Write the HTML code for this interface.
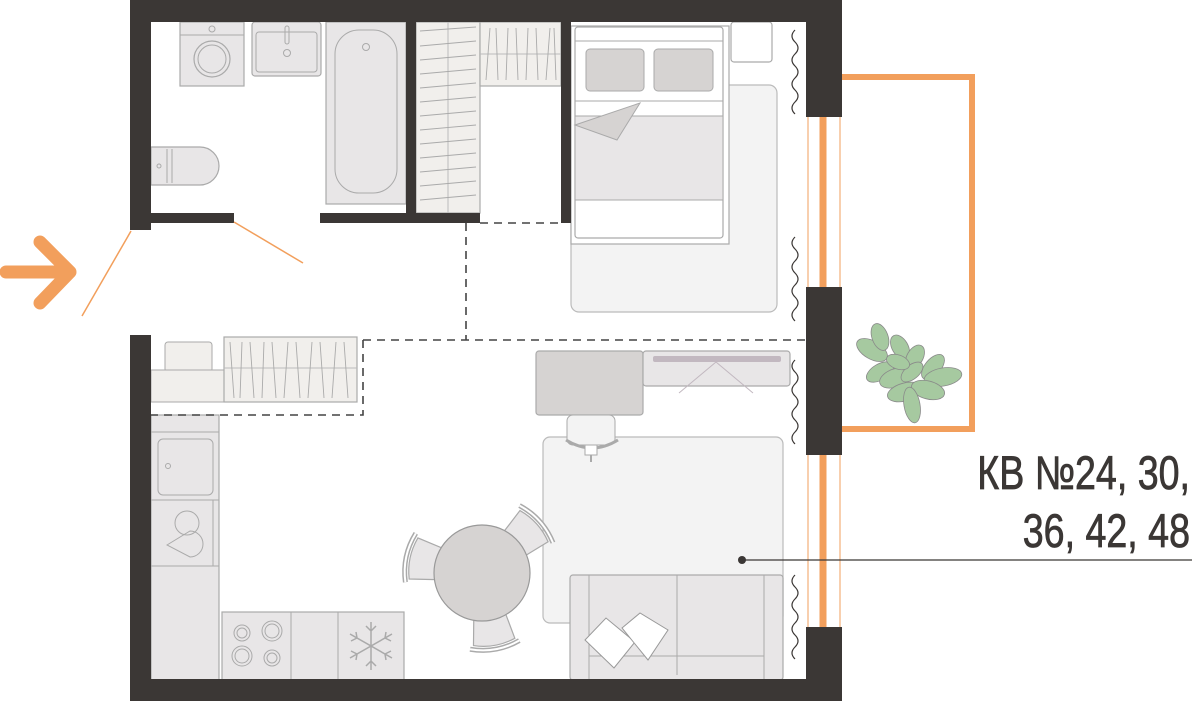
<!DOCTYPE html>
<html><head><meta charset="utf-8"><style>
html,body{margin:0;padding:0;background:#fff;}
svg{display:block;}
</style></head><body>
<svg width="1192" height="701" viewBox="0 0 1192 701" xmlns="http://www.w3.org/2000/svg">
<defs>
<g id="chair">
<path d="M-15,-38 L-21,-70 Q0,-77 21,-70 L15,-38 Z" fill="#e8e6e7" stroke="#aaa" stroke-width="1.2"/>
<path d="M-25,-73 Q0,-82 25,-73" fill="none" stroke="#aaa" stroke-width="5"/>
<path d="M-25,-73 Q0,-82 25,-73" fill="none" stroke="#fff" stroke-width="2"/>
</g>
</defs>
<!-- rugs -->
<rect x="571" y="85" width="206" height="227" rx="8" fill="#f3f3f3" stroke="#bbb" stroke-width="1.2"/>
<rect x="543" y="437" width="240" height="186" rx="7" fill="#f3f3f3" stroke="#bbb" stroke-width="1.2"/>

<!-- bathroom fixtures -->
<rect x="180" y="22" width="64" height="64" fill="#e8e6e7" stroke="#aaa" stroke-width="1.2"/>
<line x1="180" y1="35" x2="244" y2="35" stroke="#aaa"/>
<circle cx="212" cy="29" r="3" fill="none" stroke="#aaa"/>
<circle cx="212" cy="59" r="18" fill="none" stroke="#aaa" stroke-width="1.2"/>
<circle cx="212" cy="59" r="14" fill="none" stroke="#aaa"/>
<rect x="252" y="22" width="69" height="54" rx="3" fill="#e8e6e7" stroke="#aaa" stroke-width="1.2"/>
<rect x="256" y="32" width="61" height="40" rx="3" fill="none" stroke="#aaa"/>
<rect x="285" y="26" width="4" height="18" rx="2" fill="none" stroke="#aaa"/>
<circle cx="287" cy="53" r="3.5" fill="none" stroke="#aaa"/>
<rect x="326" y="22" width="80" height="182" fill="#e8e6e7" stroke="#aaa" stroke-width="1.2"/>
<rect x="335" y="30" width="62" height="163" rx="24" fill="none" stroke="#aaa"/>
<circle cx="366" cy="47" r="3.5" fill="none" stroke="#aaa"/>
<path d="M151,147 L200,147 A19,19 0 0 1 200,185 L151,185 Z" fill="#e8e6e7" stroke="#aaa" stroke-width="1.2"/>
<line x1="167" y1="149" x2="167" y2="183" stroke="#aaa"/>
<line x1="172" y1="149" x2="172" y2="183" stroke="#aaa"/>
<circle cx="159" cy="166" r="2" fill="none" stroke="#aaa"/>

<!-- wardrobes -->
<rect x="416" y="22" width="64" height="191" fill="#f1efec" stroke="#aaa" stroke-width="1.2"/>
<line x1="448" y1="22" x2="448" y2="213" stroke="#bbb"/>
<g stroke="#aaa" stroke-width="0.9">
<path d="M420,31 L476,27 M420,46 L476,41 M420,60 L476,55 M420,74 L476,69 M420,88 L476,83 M420,102 L476,97 M420,116 L476,111 M420,130 L476,125 M420,144 L476,139 M420,158 L476,153 M420,172 L476,167 M420,186 L476,181 M420,200 L476,195"/>
</g>
<rect x="480" y="22" width="81" height="64" fill="#f1efec" stroke="#aaa" stroke-width="1.2"/>
<line x1="480" y1="54" x2="561" y2="54" stroke="#bbb"/>
<g stroke="#aaa" stroke-width="0.9"><path d="M486,80 L490,28 M496,28 L498,80 M506,80 L508,28 M516,28 L518,80 M526,80 L528,28 M536,28 L538,80 M546,80 L550,28 M554,28 L556,80"/></g>

<!-- bed -->
<rect x="731" y="22" width="41" height="40" rx="3" fill="#fff" stroke="#aaa" stroke-width="1.2"/>
<rect x="571" y="26" width="158" height="218" fill="#fff" stroke="#aaa" stroke-width="1.2"/>
<rect x="575" y="27" width="148" height="211" rx="3" fill="#fff" stroke="#aaa" stroke-width="1.2"/>
<line x1="575" y1="41" x2="723" y2="41" stroke="#aaa"/>
<rect x="586" y="49" width="58" height="42" rx="4" fill="#d6d3d2" stroke="#aaa"/>
<rect x="654" y="49" width="59" height="42" rx="4" fill="#d6d3d2" stroke="#aaa"/>
<line x1="575" y1="101" x2="723" y2="101" stroke="#aaa"/>
<rect x="575" y="116" width="148" height="84" fill="#e8e6e7" stroke="#aaa"/>
<path d="M575,125 L640,103 L617,140 Z" fill="#d6d3d2" stroke="#aaa"/>

<!-- kitchen shelf -->
<rect x="165" y="342" width="47" height="30" rx="3" fill="#f1efec" stroke="#aaa"/>
<rect x="151" y="370" width="73" height="32" fill="#f1efec" stroke="#aaa"/>
<rect x="224" y="337" width="133" height="65" fill="#f1efec" stroke="#aaa" stroke-width="1.2"/>
<line x1="224" y1="368" x2="357" y2="368" stroke="#bbb"/>
<g stroke="#aaa" stroke-width="0.9"><path d="M230,342 L234,398 M240,398 L242,342 M250,342 L254,398 M262,398 L264,342 M272,342 L276,398 M284,398 L288,342 M296,342 L300,398 M308,398 L312,342 M320,342 L324,398 M332,398 L336,342 M344,342 L348,398"/></g>

<!-- kitchen counter -->
<rect x="151" y="415" width="68" height="265" fill="#e8e6e7" stroke="#aaa" stroke-width="1.2"/>
<line x1="151" y1="432" x2="219" y2="432" stroke="#aaa"/>
<rect x="158" y="439" width="55" height="56" rx="5" fill="none" stroke="#aaa"/>
<circle cx="168" cy="466" r="2.5" fill="none" stroke="#aaa"/>
<line x1="151" y1="500" x2="219" y2="500" stroke="#aaa"/>
<line x1="213" y1="500" x2="213" y2="566" stroke="#aaa"/>
<circle cx="187" cy="523" r="12" fill="none" stroke="#aaa"/>
<path d="M167,545 L190,531 A12,12 0 1 1 190,557 Z" fill="none" stroke="#aaa"/>
<line x1="151" y1="566" x2="219" y2="566" stroke="#aaa"/>
<rect x="222" y="612" width="182" height="68" fill="#e8e6e7" stroke="#aaa" stroke-width="1.2"/>
<line x1="291" y1="612" x2="291" y2="680" stroke="#aaa"/>
<line x1="338" y1="612" x2="338" y2="680" stroke="#aaa"/>
<g fill="none" stroke="#aaa"><circle cx="242" cy="633" r="8"/><circle cx="242" cy="633" r="5"/><circle cx="272" cy="631" r="10"/><circle cx="272" cy="631" r="7"/><circle cx="242" cy="656" r="10"/><circle cx="242" cy="656" r="7"/><circle cx="272" cy="658" r="8"/><circle cx="272" cy="658" r="5"/></g>
<g stroke="#aaa" stroke-width="1.5" fill="none" transform="translate(371,646)">
<path d="M0,-24 L0,24 M-21,-12 L21,12 M-21,12 L21,-12 M-5,-20 L0,-15 L5,-20 M-5,20 L0,15 L5,20 M-20,-5 L-14,-8 L-15,-14 M20,5 L14,8 L15,14 M-20,5 L-14,8 L-15,14 M20,-5 L14,-8 L15,-14"/></g>

<!-- desk & tv -->
<rect x="536" y="351" width="107" height="64" rx="3" fill="#d6d3d2" stroke="#aaa" stroke-width="1.2"/>
<rect x="643" y="351" width="147" height="35" rx="3" fill="#e8e6e7" stroke="#aaa" stroke-width="1.2"/>
<rect x="653" y="356" width="128" height="6" rx="2" fill="#c2b8c0"/>
<line x1="716" y1="362" x2="679" y2="393" stroke="#c2b8c0"/>
<line x1="716" y1="362" x2="753" y2="393" stroke="#c2b8c0"/>
<rect x="567" y="415" width="48" height="30" rx="6" fill="#f3f3f3" stroke="#aaa"/>
<path d="M566,440 Q592,456 618,440" fill="none" stroke="#aaa" stroke-width="3"/>
<rect x="585" y="445" width="12" height="10" fill="#fff" stroke="#aaa"/>
<line x1="591" y1="455" x2="591" y2="462" stroke="#aaa" stroke-width="2"/>

<!-- table & chairs -->
<use href="#chair" transform="translate(482,573) rotate(48)"/>
<use href="#chair" transform="translate(482,573) rotate(-78)"/>
<use href="#chair" transform="translate(482,573) rotate(170)"/>
<ellipse cx="482" cy="573" rx="48" ry="48" fill="#d6d3d2" stroke="#999" stroke-width="1.2"/>

<!-- sofa -->
<rect x="570" y="575" width="213" height="105" rx="3" fill="#e8e6e7" stroke="#aaa" stroke-width="1.2"/>
<line x1="589" y1="575" x2="589" y2="680" stroke="#aaa"/>
<line x1="764" y1="575" x2="764" y2="680" stroke="#aaa"/>
<line x1="677" y1="575" x2="677" y2="675" stroke="#aaa"/>
<line x1="589" y1="656" x2="764" y2="656" stroke="#aaa"/>
<path d="M585,640 L606,618 L635,642 L614,668 Z" fill="#fff" stroke="#999"/>
<path d="M622,628 L640,613 L668,630 L648,660 Z" fill="#fff" stroke="#999"/>

<!-- dashed zones -->
<g stroke="#444" stroke-width="1.6" stroke-dasharray="8,6" fill="none">
<path d="M466,223 L466,340"/>
<path d="M480,223 L561,223"/>
<path d="M363,340 L806,340"/>
<path d="M363,340 L363,415 L151,415"/>
</g>

<!-- walls -->
<g fill="#3b3735">
<rect x="130" y="0" width="676" height="22"/>
<rect x="130" y="0" width="21" height="230"/>
<rect x="130" y="335" width="21" height="366"/>
<rect x="130" y="679" width="676" height="22"/>
<rect x="806" y="0" width="36" height="117"/>
<rect x="806" y="287" width="36" height="168"/>
<rect x="806" y="627" width="36" height="74"/>
<rect x="151" y="213" width="83" height="10"/>
<rect x="320" y="213" width="160" height="10"/>
<rect x="406" y="22" width="10" height="191"/>
<rect x="561" y="22" width="10" height="201"/>
</g>

<!-- windows -->
<g stroke="#f29f5c">
<line x1="808" y1="117" x2="808" y2="287" stroke-width="1"/>
<line x1="840" y1="117" x2="840" y2="287" stroke-width="1"/>
<line x1="823" y1="117" x2="823" y2="287" stroke-width="7"/>
<line x1="808" y1="455" x2="808" y2="627" stroke-width="1"/>
<line x1="840" y1="455" x2="840" y2="627" stroke-width="1"/>
<line x1="823" y1="455" x2="823" y2="627" stroke-width="7"/>
</g>

<!-- curtains -->
<g fill="none" stroke="#3b3735" stroke-width="1.2">
<path id="wv" d="M795,30 q-6,6 0,12 q6,6 0,12 q-6,6 0,12 q6,6 0,12 q-6,6 0,12 q6,6 0,12 q-6,6 0,12"/>
<use href="#wv" transform="translate(0,207)"/>
<use href="#wv" transform="translate(0,330)"/>
<use href="#wv" transform="translate(0,545)"/>
</g>

<!-- balcony -->
<path d="M842,77 L972,77 L972,429 L842,429" fill="none" stroke="#f29f5c" stroke-width="6"/>
<g fill="#a6c9a0" stroke="#8a8a8a" stroke-width="0.8">
<ellipse cx="872" cy="350" rx="17" ry="9" transform="rotate(30 872 350)"/>
<ellipse cx="880" cy="337" rx="14" ry="8" transform="rotate(70 880 337)"/>
<ellipse cx="900" cy="347" rx="13" ry="8" transform="rotate(60 900 347)"/>
<ellipse cx="880" cy="372" rx="15" ry="8" transform="rotate(-30 880 372)"/>
<ellipse cx="895" cy="378" rx="16" ry="9" transform="rotate(-20 895 378)"/>
<ellipse cx="915" cy="357" rx="13" ry="8" transform="rotate(-60 915 357)"/>
<ellipse cx="933" cy="367" rx="15" ry="8" transform="rotate(-50 933 367)"/>
<ellipse cx="943" cy="377" rx="19" ry="9" transform="rotate(-10 943 377)"/>
<ellipse cx="905" cy="392" rx="18" ry="9" transform="rotate(-15 905 392)"/>
<ellipse cx="928" cy="390" rx="17" ry="9" transform="rotate(15 928 390)"/>
<ellipse cx="912" cy="405" rx="18" ry="8" transform="rotate(80 912 405)"/>
<ellipse cx="912" cy="372" rx="13" ry="7" transform="rotate(-40 912 372)"/>
<ellipse cx="898" cy="362" rx="12" ry="7" transform="rotate(20 898 362)"/>
</g>

<!-- door swings & arrow -->
<g stroke="#f29f5c" fill="none">
<line x1="234" y1="222" x2="303" y2="263" stroke-width="1.5"/>
<line x1="131" y1="231" x2="82" y2="316" stroke-width="1.5"/>
<path d="M6,272 L70,272 M40,242 L70,272 L40,303" stroke-width="13" stroke-linecap="round" stroke-linejoin="round"/>
</g>

<!-- label -->
<line x1="742" y1="560" x2="1192" y2="560" stroke="#3b3735" stroke-width="1.3"/>
<circle cx="742" cy="560" r="4" fill="#3b3735"/>
<g font-family="'Liberation Sans', sans-serif" font-size="47" fill="#3b3735" stroke="#3b3735" stroke-width="0.8" text-anchor="end">
<text x="1190" y="489" transform="translate(1190,0) scale(0.8,1) translate(-1190,0)">КВ №24, 30,</text>
<text x="1190" y="547" transform="translate(1190,0) scale(0.8,1) translate(-1190,0)">36, 42, 48</text>
</g>
</svg>
</body></html>
